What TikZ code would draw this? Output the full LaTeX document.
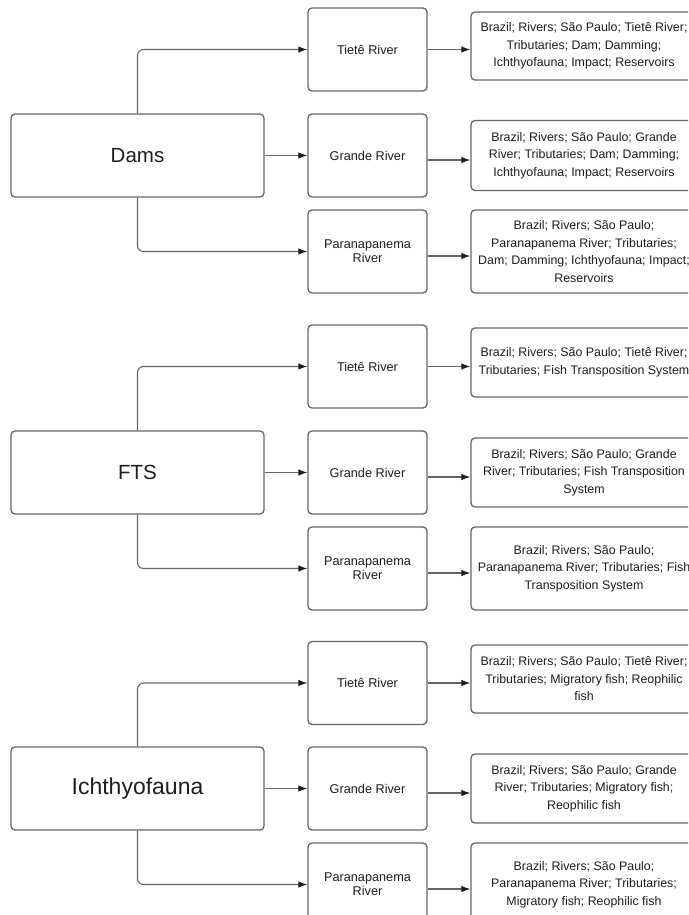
\documentclass[tikz,border=0pt]{standalone}
\usepackage{fontspec}
\setmainfont{Liberation Sans}
\usetikzlibrary{positioning,arrows.meta}

\definecolor{linegray}{HTML}{666666}
\definecolor{textgray}{HTML}{1E1E1E}

\begin{document}
\begin{tikzpicture}[%
    x=1pt, y=-1pt,
    >={Latex[length=9pt,width=6.5pt,color=textgray]},
    on grid,
    box/.style={draw=linegray, line width=1.3pt, rounded corners=4pt,
        text=textgray, align=center, inner sep=2pt},
    topic/.style={box, minimum width=253pt, minimum height=83pt,
        font=\fontsize{20.5}{24}\selectfont},
    river/.style={box, minimum width=119pt, minimum height=83pt,
        font=\fontsize{12.7}{14}\selectfont},
    keywords/.style={box, minimum width=226pt,
        font=\fontsize{12.4}{17.5}\selectfont},
    conn/.style={->, draw=linegray, line width=1.1pt},
    ]
    \useasboundingbox (0,0) rectangle (688,915);
    \clip (0,0) rectangle (688,915);
    \fill[white] (0,0) rectangle (688,915);

    % Dams
    \node[topic] (dams) at (137.5,155.5) {Dams};
    \node[river] (damsT) [above right=106pt and 230pt of dams] {Tietê River};
    \node[river] (damsG) [right=230pt of dams] {Grande River};
    \node[river] (damsP) [below right=96pt and 230pt of dams] {Paranapanema\\River};

    \node[keywords, minimum height=68pt] (damsTk) [right=216.5pt of damsT, yshift=3.5pt]
        {Brazil; Rivers; São Paulo; Tietê River;\\Tributaries; Dam; Damming;\\Ichthyofauna; Impact; Reservoirs};
    \node[keywords, minimum height=70pt] (damsGk) [right=216.5pt of damsG]
        {Brazil; Rivers; São Paulo; Grande\\River; Tributaries; Dam; Damming;\\Ichthyofauna; Impact; Reservoirs};
    \node[keywords, minimum height=83pt] (damsPk) [right=216.5pt of damsP]
        {Brazil; Rivers; São Paulo;\\Paranapanema River; Tributaries;\\Dam; Damming; Ichthyofauna; Impact;\\Reservoirs};

    % FTS
    \node[topic] (fts) at (137.5,472.5) {FTS};
    \node[river] (ftsT) [above right=106pt and 230pt of fts] {Tietê River};
    \node[river] (ftsG) [right=230pt of fts] {Grande River};
    \node[river] (ftsP) [below right=96pt and 230pt of fts] {Paranapanema\\River};

    \node[keywords, minimum height=69pt] (ftsTk) [right=216.5pt of ftsT, yshift=4pt]
        {Brazil; Rivers; São Paulo; Tietê River;\\Tributaries; Fish Transposition System};
    \node[keywords, minimum height=69pt] (ftsGk) [right=216.5pt of ftsG]
        {Brazil; Rivers; São Paulo; Grande\\River; Tributaries; Fish Transposition\\System};
    \node[keywords, minimum height=83pt] (ftsPk) [right=216.5pt of ftsP]
        {Brazil; Rivers; São Paulo;\\Paranapanema River; Tributaries; Fish\\Transposition System};

    % Ichthyofauna
    \node[topic, font=\fontsize{23}{27}\selectfont] (ichthy) at (137.5,788.5) {Ichthyofauna};
    \node[river] (ichthyT) [above right=105.5pt and 230pt of ichthy] {Tietê River};
    \node[river] (ichthyG) [right=230pt of ichthy] {Grande River};
    \node[river] (ichthyP) [below right=96pt and 230pt of ichthy] {Paranapanema\\River};

    \node[keywords, minimum height=68pt] (ichthyTk) [right=216.5pt of ichthyT, yshift=4pt]
        {Brazil; Rivers; São Paulo; Tietê River;\\Tributaries; Migratory fish; Reophilic\\fish};
    \node[keywords, minimum height=69pt] (ichthyGk) [right=216.5pt of ichthyG]
        {Brazil; Rivers; São Paulo; Grande\\River; Tributaries; Migratory fish;\\Reophilic fish};
    \node[keywords, minimum height=83pt] (ichthyPk) [right=216.5pt of ichthyP]
        {Brazil; Rivers; São Paulo;\\Paranapanema River; Tributaries;\\Migratory fish; Reophilic fish};

    % connectors
    \foreach \t in {dams,fts,ichthy} {
        \draw[conn, rounded corners=6pt] (\t.north) |- (\t T.west);
        \draw[conn] (\t.east) -- (\t G.west);
        \draw[conn, rounded corners=6pt] (\t.south) |- (\t P.west);
        \draw[conn] (\t T.east) -- (\t T.east -| \t Tk.west);
        \draw[conn] ([yshift=-4.5pt]\t G.east) -- ([yshift=-4.5pt]\t G.east -| \t Gk.west);
        \draw[conn] ([yshift=-4.5pt]\t P.east) -- ([yshift=-4.5pt]\t P.east -| \t Pk.west);
    }

\end{tikzpicture}
\end{document}
